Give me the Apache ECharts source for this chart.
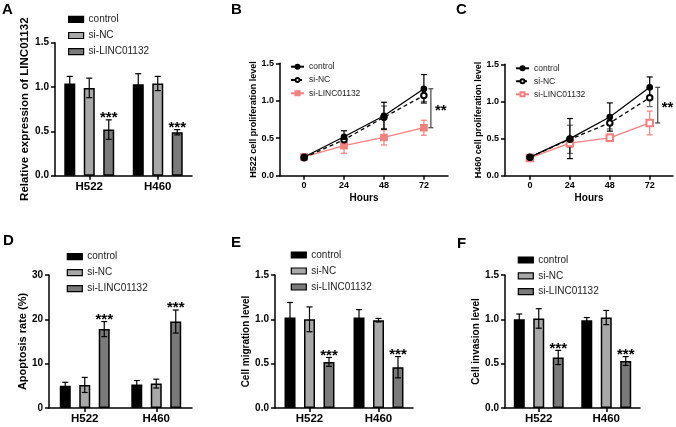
<!DOCTYPE html>
<html>
<head>
<meta charset="utf-8">
<script src="https://cdn.jsdelivr.net/npm/echarts@6/dist/echarts.min.js"></script>
<style>
html, body { margin: 0; padding: 0; background: #fff; }
#chart { width: 676px; height: 427px; }
</style>
</head>
<body>
<div id="chart"></div>
<script>
var groups = ['control', 'si-NC', 'si-LINC01132'];
var cells = ['H522', 'H460'];
var hours = [0, 24, 48, 72];
var barSig = ['', '', '***'];

// rows: control, si-NC, si-LINC01132 ; cols: H522, H460
var exprMean = [[1.04, 1.03], [0.99, 1.04], [0.52, 0.49]];
var exprErr = [[0.08, 0.12], [0.11, 0.08], [0.11, 0.03]];
var apopMean = [[5.0, 5.3], [5.2, 5.5], [17.8, 19.5]];
var apopErr = [[0.8, 0.9], [1.7, 1.0], [1.7, 2.6]];
var migMean = [[1.02, 1.02], [1.00, 0.99], [0.52, 0.46]];
var migErr = [[0.17, 0.09], [0.14, 0.02], [0.05, 0.12]];
var invMean = [[1.00, 0.99], [1.01, 1.02], [0.57, 0.53]];
var invErr = [[0.06, 0.03], [0.11, 0.08], [0.08, 0.05]];

// rows: control, si-NC, si-LINC01132 ; cols: 0, 24, 48, 72 h
var h522Mean = [[0.25, 0.52, 0.80, 1.16], [0.24, 0.48, 0.78, 1.07], [0.25, 0.40, 0.51, 0.64]];
var h522Err = [[0.02, 0.08, 0.18, 0.19], [0.02, 0.05, 0.15, 0.08], [0.02, 0.10, 0.10, 0.10]];
var h460Mean = [[0.25, 0.50, 0.79, 1.19], [0.25, 0.49, 0.71, 1.05], [0.24, 0.44, 0.51, 0.71]];
var h460Err = [[0.02, 0.27, 0.19, 0.14], [0.02, 0.19, 0.08, 0.12], [0.02, 0.06, 0.05, 0.16]];

var FONT = 'Liberation Sans';
var PINK = '#f2807f';
var barColors = ['#000000', '#a8a8a8', '#7a7a7a'];
var BAR_W = 11, BAR_STEP = 19.5;

var chart = echarts.init(document.getElementById('chart'));
var grids = [], xAxes = [], yAxes = [], series = [], legends = [], graphics = [];

function axLine() { return { show: true, onZero: false, lineStyle: { color: '#000', width: 1.5 } }; }
function axTick(extra) {
  var t = { show: true, length: 4, lineStyle: { color: '#000', width: 1.5 } };
  for (var k in extra) t[k] = extra[k];
  return t;
}
function boldText(size) { return { color: '#000', fontWeight: 'bold', fontSize: size, fontFamily: FONT }; }

function errRender(offset, color, cap, sig) {
  return function (params, api) {
    var xv = api.value(0), m = api.value(1), e = api.value(2);
    var x = api.coord([xv, m])[0] + offset;
    var top = api.coord([xv, m + e])[1];
    var bot = api.coord([xv, m - e])[1];
    var st = { stroke: color, lineWidth: 1.2 };
    var ch = [
      { type: 'line', shape: { x1: x, y1: top, x2: x, y2: bot }, style: st },
      { type: 'line', shape: { x1: x - cap, y1: top, x2: x + cap, y2: top }, style: st },
      { type: 'line', shape: { x1: x - cap, y1: bot, x2: x + cap, y2: bot }, style: st }
    ];
    if (sig) {
      ch.push({ type: 'text', style: { x: x, y: top - 2, text: sig, fill: '#000',
        font: 'bold 15px "' + FONT + '"', align: 'center', verticalAlign: 'middle' } });
    }
    return { type: 'group', children: ch };
  };
}

function bracketRender(dx) {
  return function (params, api) {
    var xv = api.value(0);
    var x = api.coord([xv, 0])[0] + dx;
    var y1 = api.coord([xv, api.value(1)])[1];
    var y2 = api.coord([xv, api.value(2)])[1];
    var st = { stroke: '#444', lineWidth: 1.2 };
    return { type: 'group', children: [
      { type: 'line', shape: { x1: x, y1: y1, x2: x, y2: y2 }, style: st },
      { type: 'line', shape: { x1: x - 2.5, y1: y1, x2: x + 2.5, y2: y1 }, style: st },
      { type: 'line', shape: { x1: x - 2.5, y1: y2, x2: x + 2.5, y2: y2 }, style: st },
      { type: 'text', style: { x: x + 4, y: (y1 + y2) / 2 + 3, text: '**', fill: '#000',
        font: 'bold 15px "' + FONT + '"', align: 'left', verticalAlign: 'middle' } }
    ] };
  };
}

function yAxisFor(i, p) {
  return {
    type: 'value', gridIndex: i, min: 0, max: p.max, interval: p.interval,
    splitLine: { show: false }, axisLine: axLine(), axisTick: axTick({}),
    axisLabel: { color: '#000', fontWeight: 'bold', fontSize: p.tickSize, fontFamily: FONT, margin: 6,
      formatter: function (v) { return v.toFixed(p.dec); } },
    name: p.title, nameLocation: 'middle', nameGap: p.nameGap, nameTextStyle: boldText(p.titleSize)
  };
}

function addBarPanel(p) {
  var i = grids.length;
  grids.push(p.grid);
  xAxes.push({
    type: 'category', gridIndex: i, data: cells,
    axisLine: axLine(), axisTick: axTick({ alignWithLabel: true }),
    axisLabel: { color: '#000', fontWeight: 'bold', fontSize: 11.5, fontFamily: FONT, margin: 5 }
  });
  yAxes.push(yAxisFor(i, p));
  var names = [];
  groups.forEach(function (g, k) {
    var nm = p.key + '|' + g;
    names.push(nm);
    series.push({
      type: 'bar', name: nm, xAxisIndex: i, yAxisIndex: i, data: p.mean[k],
      barWidth: BAR_W, barGap: '77%', silent: true,
      itemStyle: { color: barColors[k], borderColor: '#000', borderWidth: 1.5 }
    });
  });
  groups.forEach(function (g, k) {
    series.push({
      type: 'custom', name: p.key + '-err-' + k, xAxisIndex: i, yAxisIndex: i, z: 5, silent: true,
      data: cells.map(function (c, j) { return [j, p.mean[k][j], p.err[k][j]]; }),
      renderItem: errRender((k - 1) * BAR_STEP, '#000', 3, barSig[k])
    });
  });
  legends.push({
    orient: 'vertical', left: p.legend[0], top: p.legend[1], itemGap: p.legend[2], padding: 0,
    itemWidth: 15, itemHeight: 6, icon: 'rect', data: names, selectedMode: false,
    formatter: function (n) { return n.split('|')[1]; },
    itemStyle: { borderColor: '#000', borderWidth: 1.2 },
    textStyle: { fontSize: 10, lineHeight: 12, color: '#222', fontFamily: FONT }
  });
}

function addLinePanel(p) {
  var i = grids.length;
  grids.push(p.grid);
  xAxes.push({
    type: 'value', gridIndex: i, min: p.xRange[0], max: p.xRange[1],
    splitLine: { show: false }, axisLine: axLine(),
    axisTick: axTick({ customValues: hours }),
    axisLabel: { customValues: hours, color: '#000', fontWeight: 'bold', fontSize: 9, fontFamily: FONT, margin: 5 },
    name: 'Hours', nameLocation: 'middle', nameGap: 18, nameTextStyle: boldText(10)
  });
  yAxes.push(yAxisFor(i, p));
  var names = [];
  var colors = ['#000', '#000', PINK];
  var errColors = ['#000', '#666', PINK];
  var syms = ['circle', 'emptyCircle', p.lincSymbol];
  [2, 1, 0].forEach(function (k) {
    series.push({
      type: 'custom', name: p.key + '-err-' + k, xAxisIndex: i, yAxisIndex: i, z: 1, silent: true,
      data: hours.map(function (h, j) { return [h, p.mean[k][j], p.err[k][j]]; }),
      renderItem: errRender(0, errColors[k], 3, '')
    });
  });
  groups.forEach(function (g, k) {
    var nm = p.key + '|' + g;
    names.push(nm);
    series.push({
      type: 'line', name: nm, xAxisIndex: i, yAxisIndex: i, z: 4 - k, silent: true,
      data: hours.map(function (h, j) { return [h, p.mean[k][j]]; }),
      symbol: syms[k], symbolSize: k === 2 ? 6.5 : 5.5,
      lineStyle: { color: colors[k], width: 1.3, type: k === 1 ? [4, 3] : 'solid' },
      itemStyle: { color: colors[k], borderColor: colors[k], borderWidth: 1.2 }
    });
  });
  series.push({
    type: 'custom', name: p.key + '-bracket', xAxisIndex: i, yAxisIndex: i, silent: true,
    data: [[hours[3], p.mean[0][3], p.mean[2][3]]],
    renderItem: bracketRender(p.bracketDx)
  });
  legends.push({
    orient: 'vertical', left: p.legend[0], top: p.legend[1], itemGap: p.legend[2], padding: 0,
    itemWidth: 13, itemHeight: 5, data: names, selectedMode: false,
    formatter: function (n) { return n.split('|')[1]; },
    textStyle: { fontSize: 8.5, lineHeight: 12, color: '#222', fontFamily: FONT }
  });
}

addBarPanel({ key: 'A', mean: exprMean, err: exprErr, max: 1.5, interval: 0.5, dec: 1,
  grid: { left: 55, top: 42.7, width: 137, height: 133 },
  title: 'Relative expression of LINC01132', titleSize: 11.5, nameGap: 23, tickSize: 10,
  legend: [68, 13.3, 4.2] });
addLinePanel({ key: 'B', mean: h522Mean, err: h522Err, max: 1.5, interval: 0.5, dec: 1,
  grid: { left: 280, top: 63.3, width: 168, height: 112.4 }, xRange: [-14.5, 86.5],
  title: 'H522 cell proliferation level', titleSize: 9, nameGap: 22, tickSize: 9,
  lincSymbol: 'rect', bracketDx: 7, legend: [290, 60.7, 1.3] });
addLinePanel({ key: 'C', mean: h460Mean, err: h460Err, max: 1.5, interval: 0.5, dec: 1,
  grid: { left: 505, top: 64.3, width: 168, height: 111.4 }, xRange: [-15, 86],
  title: 'H460 cell proliferation level', titleSize: 9, nameGap: 20, tickSize: 9,
  lincSymbol: 'emptyRect', bracketDx: 8, legend: [515, 62.3, 1] });
addBarPanel({ key: 'D', mean: apopMean, err: apopErr, max: 30, interval: 10, dec: 0,
  grid: { left: 49, top: 275, width: 143, height: 133 },
  title: 'Apoptosis rate (%)', titleSize: 11, nameGap: 17, tickSize: 10,
  legend: [66.7, 250.7, 4] });
addBarPanel({ key: 'E', mean: migMean, err: migErr, max: 1.5, interval: 0.5, dec: 1,
  grid: { left: 275, top: 275, width: 138, height: 133 },
  title: 'Cell migration level', titleSize: 10, nameGap: 22, tickSize: 10,
  legend: [290.7, 249, 4] });
addBarPanel({ key: 'F', mean: invMean, err: invErr, max: 1.5, interval: 0.5, dec: 1,
  grid: { left: 505, top: 275, width: 135, height: 133 },
  title: 'Cell invasion level', titleSize: 10, nameGap: 23, tickSize: 10,
  legend: [517.7, 254, 3.8] });

var letters = [['A', 2, 2], ['B', 231, 2], ['C', 456, 2], ['D', 3, 233], ['E', 231, 235], ['F', 457, 236]];
letters.forEach(function (l) {
  graphics.push({ type: 'text', left: l[1], top: l[2],
    style: { text: l[0], fill: '#000', font: 'bold 15px "' + FONT + '"' } });
});

chart.setOption({
  animation: false,
  textStyle: { fontFamily: FONT },
  grid: grids, xAxis: xAxes, yAxis: yAxes, series: series, legend: legends, graphic: graphics
});
</script>
</body>
</html>
